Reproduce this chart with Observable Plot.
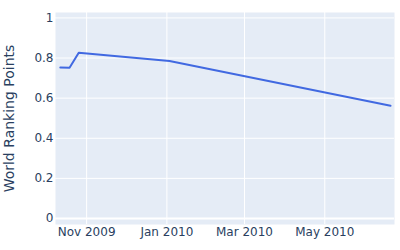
<!DOCTYPE html>
<html>
<head>
<meta charset="utf-8">
<script src="https://cdn.jsdelivr.net/npm/d3@7"></script>
<script src="https://cdn.jsdelivr.net/npm/@observablehq/plot@0.6"></script>
<style>
  html, body { margin: 0; padding: 0; background: #fff; }
</style>
</head>
<body>
<div id="chart"></div>
<script>
const dates = ["2009-10-12", "2009-10-19", "2009-10-26", "2010-01-03", "2010-06-20"];
const values = [0.753, 0.752, 0.826, 0.785, 0.562];
const yTicks = [0, 0.2, 0.4, 0.6, 0.8, 1];
const yTickLabels = ["0", "0.2", "0.4", "0.6", "0.8", "1"];
const xTickDates = ["2009-11-01", "2010-01-01", "2010-03-01", "2010-05-01"];
const xTickLabels = ["Nov 2009", "Jan 2010", "Mar 2010", "May 2010"];

const data = dates.map((d, i) => ({date: new Date(d + "T00:00:00"), value: values[i]}));
const xTicks = xTickDates.map(d => new Date(d + "T00:00:00"));
const textColor = "#2a3f5f";

const chart = Plot.plot({
  width: 400,
  height: 250,
  marginLeft: 55,
  marginRight: 6,
  marginTop: 12,
  marginBottom: 26,
  style: {fontFamily: "'DejaVu Sans', sans-serif", fontSize: "12px", color: textColor, background: "white"},
  x: {
    type: "time",
    domain: [new Date("2009-10-08T08:00:00"), new Date("2010-06-23T00:00:00")],
    ticks: xTicks,
    label: null
  },
  y: {
    domain: [-0.03, 1.027],
    ticks: yTicks,
    label: null
  },
  marks: [
    Plot.frame({fill: "#e5ecf6", stroke: null}),
    Plot.gridX(xTicks, {stroke: "white", strokeOpacity: 1, strokeWidth: 1}),
    Plot.gridY(yTicks.filter(v => v !== 0), {stroke: "white", strokeOpacity: 1, strokeWidth: 1}),
    Plot.ruleY([0], {stroke: "white", strokeWidth: 2}),
    Plot.line(data, {x: "date", y: "value", stroke: "#4169e1", strokeWidth: 2}),
    Plot.axisY(yTicks, {tickSize: 0, tickPadding: 2, tickFormat: v => yTickLabels[yTicks.indexOf(v)], fill: textColor, fontSize: 12, label: null}),
    Plot.axisX(xTicks, {tickSize: 0, tickPadding: 3, tickFormat: d => xTickLabels[xTicks.findIndex(t => +t === +d)], fill: textColor, fontSize: 12, label: null}),
    Plot.text(["World Ranking Points"], {frameAnchor: "left", textAnchor: "middle", dx: -46, rotate: -90, fill: textColor, fontSize: 14, text: d => d})
  ]
});
document.getElementById("chart").appendChild(chart);
</script>
</body>
</html>
